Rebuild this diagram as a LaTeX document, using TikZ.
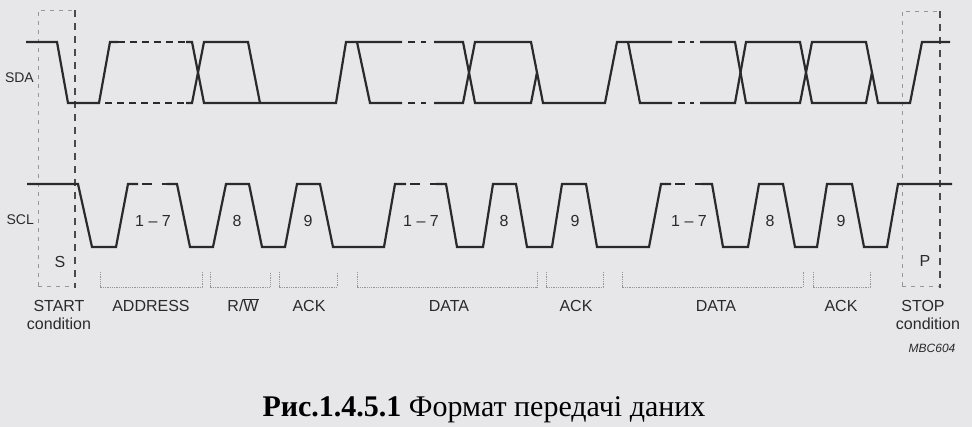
\documentclass[tikz,border=0pt]{standalone}
\usepackage{fontspec}
\setmainfont{Liberation Serif}
\newfontfamily\labelfont{Liberation Sans}
\definecolor{paper}{RGB}{231,231,233}
\definecolor{ink}{RGB}{42,42,42}
\definecolor{faint}{RGB}{150,150,150}
\tikzset{
  trace/.style={ink,line width=2.2pt,line join=miter},
  gapline/.style={trace,dash pattern=on 7pt off 5pt},
  framedark/.style={ink!85,line width=1.2pt,dash pattern=on 7pt off 6pt},
  framelight/.style={faint,line width=0.8pt,dash pattern=on 4pt off 5pt},
  bitbox/.style={faint,line width=0.8pt,densely dotted},
  siglabel/.style={font=\labelfont\fontsize{14}{14}\selectfont,text=ink,inner sep=0pt},
  fieldlabel/.style={font=\labelfont\fontsize{16}{16}\selectfont,text=ink,inner sep=0pt},
}
\begin{document}
\begin{tikzpicture}[x=1pt,y=-1pt]%
\useasboundingbox (0,0) rectangle (972,427);%
\fill[paper] (0,0) rectangle (972,427);%
%
\def\sdaHi{42}%
\def\sdaLo{103}%
\def\sdaMid{72.5}%
\def\sclHi{184}%
\def\sclLo{247}%
%
% start and stop frames
\draw[framelight] (38,286) -- (38,10) -- (75,10);%
\draw[framelight] (38,286) -- (75,286);%
\draw[framedark] (75,10) -- (75,288);%
\draw[framelight] (902,286) -- (902,11) -- (940,11);%
\draw[framelight] (902,286) -- (940,286);%
\draw[framedark] (940,11) -- (940,288);%
%
% SDA
\draw[trace] (26,\sdaHi) -- (57,\sdaHi) -- (68,\sdaLo) -- (99,\sdaLo) -- (110,\sdaHi) -- (118,\sdaHi);%
\draw[gapline] (118,\sdaHi) -- (186,\sdaHi);%
\draw[gapline] (105,\sdaLo) -- (186,\sdaLo);%
\draw[trace] (186,\sdaHi) -- (192,\sdaHi) -- (204,\sdaLo) -- (336,\sdaLo) -- (346,\sdaHi) -- (402,\sdaHi);%
\draw[trace] (186,\sdaLo) -- (192,\sdaLo) -- (204,\sdaHi) -- (248,\sdaHi) -- (260,\sdaLo);%
\draw[trace] (357,\sdaHi) -- (370,\sdaLo) -- (402,\sdaLo);%
\draw[trace,dash pattern=on 0pt off 6pt on 7pt off 6pt on 5pt off 8pt] (402,\sdaHi) -- (434,\sdaHi);%
\draw[trace,dash pattern=on 0pt off 6pt on 7pt off 6pt on 5pt off 8pt] (402,\sdaLo) -- (434,\sdaLo);%
\draw[trace] (434,\sdaHi) -- (463,\sdaHi) -- (475,\sdaLo) -- (531,\sdaLo) -- (537,\sdaMid);%
\draw[trace] (434,\sdaLo) -- (463,\sdaLo) -- (475,\sdaHi) -- (531,\sdaHi) -- (543,\sdaLo) -- (605,\sdaLo) -- (617,\sdaHi) -- (672,\sdaHi);%
\draw[trace] (628,\sdaHi) -- (640,\sdaLo) -- (672,\sdaLo);%
\draw[trace,dash pattern=on 0pt off 6pt on 7pt off 5pt on 4pt off 6pt] (672,\sdaHi) -- (700,\sdaHi);%
\draw[trace,dash pattern=on 0pt off 6pt on 7pt off 5pt on 4pt off 6pt] (672,\sdaLo) -- (700,\sdaLo);%
\draw[trace] (700,\sdaHi) -- (735,\sdaHi) -- (746,\sdaLo) -- (800,\sdaLo) -- (812,\sdaHi) -- (866,\sdaHi) -- (878,\sdaLo) -- (910,\sdaLo) -- (922,\sdaHi) -- (950,\sdaHi);%
\draw[trace] (700,\sdaLo) -- (735,\sdaLo) -- (746,\sdaHi) -- (800,\sdaHi) -- (812,\sdaLo) -- (866,\sdaLo) -- (872,\sdaMid);%
%
% SCL
\draw[trace] (27,\sclHi) -- (78,\sclHi) -- (92,\sclLo) -- (116,\sclLo) -- (128,\sclHi) -- (138,\sclHi);%
\draw[trace,dash pattern=on 0pt off 4pt on 6pt] (138,\sclHi) -- (168,\sclHi);%
\draw[trace] (167,\sclHi) -- (177,\sclHi) -- (190,\sclLo) -- (213,\sclLo) -- (226,\sclHi) -- (249,\sclHi) -- (262,\sclLo) -- (285,\sclLo) -- (297,\sclHi) -- (320,\sclHi) -- (333,\sclLo) -- (384,\sclLo) -- (395,\sclHi) -- (406,\sclHi);%
\draw[trace,dash pattern=on 0pt off 4pt on 6pt] (406,\sclHi) -- (436,\sclHi);%
\draw[trace] (436,\sclHi) -- (446,\sclHi) -- (457,\sclLo) -- (483,\sclLo) -- (493,\sclHi) -- (516,\sclHi) -- (527,\sclLo) -- (552,\sclLo) -- (562,\sclHi) -- (586,\sclHi) -- (597,\sclLo) -- (649,\sclLo) -- (661,\sclHi) -- (671,\sclHi);%
\draw[trace,dash pattern=on 0pt off 4pt on 6pt] (671,\sclHi) -- (701,\sclHi);%
\draw[trace] (701,\sclHi) -- (712,\sclHi) -- (723,\sclLo) -- (748,\sclLo) -- (759,\sclHi) -- (783,\sclHi) -- (795,\sclLo) -- (817,\sclLo) -- (827,\sclHi) -- (852,\sclHi) -- (864,\sclLo) -- (887,\sclLo) -- (898,\sclHi) -- (952,\sclHi);%
%
% bit fields
\foreach \a/\b in {100/202,210/270,279/337,357/537,546/603,622/803,813/870}%
  \draw[bitbox] (\a,272) -- (\a,287) -- (\b,287) -- (\b,272);%
%
\node[siglabel,anchor=base east] (sda) at (34,83) {SDA};%
\node[siglabel,anchor=base east] (scl) at (34,225) {SCL};%
%
\node[fieldlabel,anchor=base] (a17) at (153,227) {1 – 7};%
\node[fieldlabel,anchor=base] (a8) at (237,227) {8};%
\node[fieldlabel,anchor=base] (a9) at (308,227) {9};%
\node[fieldlabel,anchor=base] (d17) at (421,227) {1 – 7};%
\node[fieldlabel,anchor=base] (d8) at (504,227) {8};%
\node[fieldlabel,anchor=base] (d9) at (575,227) {9};%
\node[fieldlabel,anchor=base] (e17) at (689,227) {1 – 7};%
\node[fieldlabel,anchor=base] (e8) at (770,227) {8};%
\node[fieldlabel,anchor=base] (e9) at (841,227) {9};%
\node[fieldlabel,anchor=base] (s) at (60,268) {S};%
\node[fieldlabel,anchor=base] (p) at (925,267) {P};%
%
\node[fieldlabel,anchor=base] (start) at (59,312) {START};%
\node[fieldlabel,anchor=base] (startc) at (59,330) {condition};%
\node[fieldlabel,anchor=base] (addr) at (151,312) {ADDRESS};%
\node[fieldlabel,anchor=base] (rw) at (243,312) {R/$\overline{\mbox{W}}$};%
\node[fieldlabel,anchor=base] (ack1) at (309,312) {ACK};%
\node[fieldlabel,anchor=base] (data1) at (449,312) {DATA};%
\node[fieldlabel,anchor=base] (ack2) at (576,312) {ACK};%
\node[fieldlabel,anchor=base] (data2) at (716,312) {DATA};%
\node[fieldlabel,anchor=base] (ack3) at (841,312) {ACK};%
\node[fieldlabel,anchor=base] (stop) at (923,312) {STOP};%
\node[fieldlabel,anchor=base] (stopc) at (928,330) {condition};%
\node[font=\labelfont\itshape\fontsize{12}{12}\selectfont,text=ink,inner sep=0pt,anchor=base] (mbc) at (932,353) {MBC604};%
%
\node[font=\fontsize{30}{30}\selectfont,text=black,inner sep=0pt,anchor=base] (caption) at (484,417) {\textbf{Рис.1.4.5.1} Формат передачі даних};%
%
\end{tikzpicture}
\end{document}
